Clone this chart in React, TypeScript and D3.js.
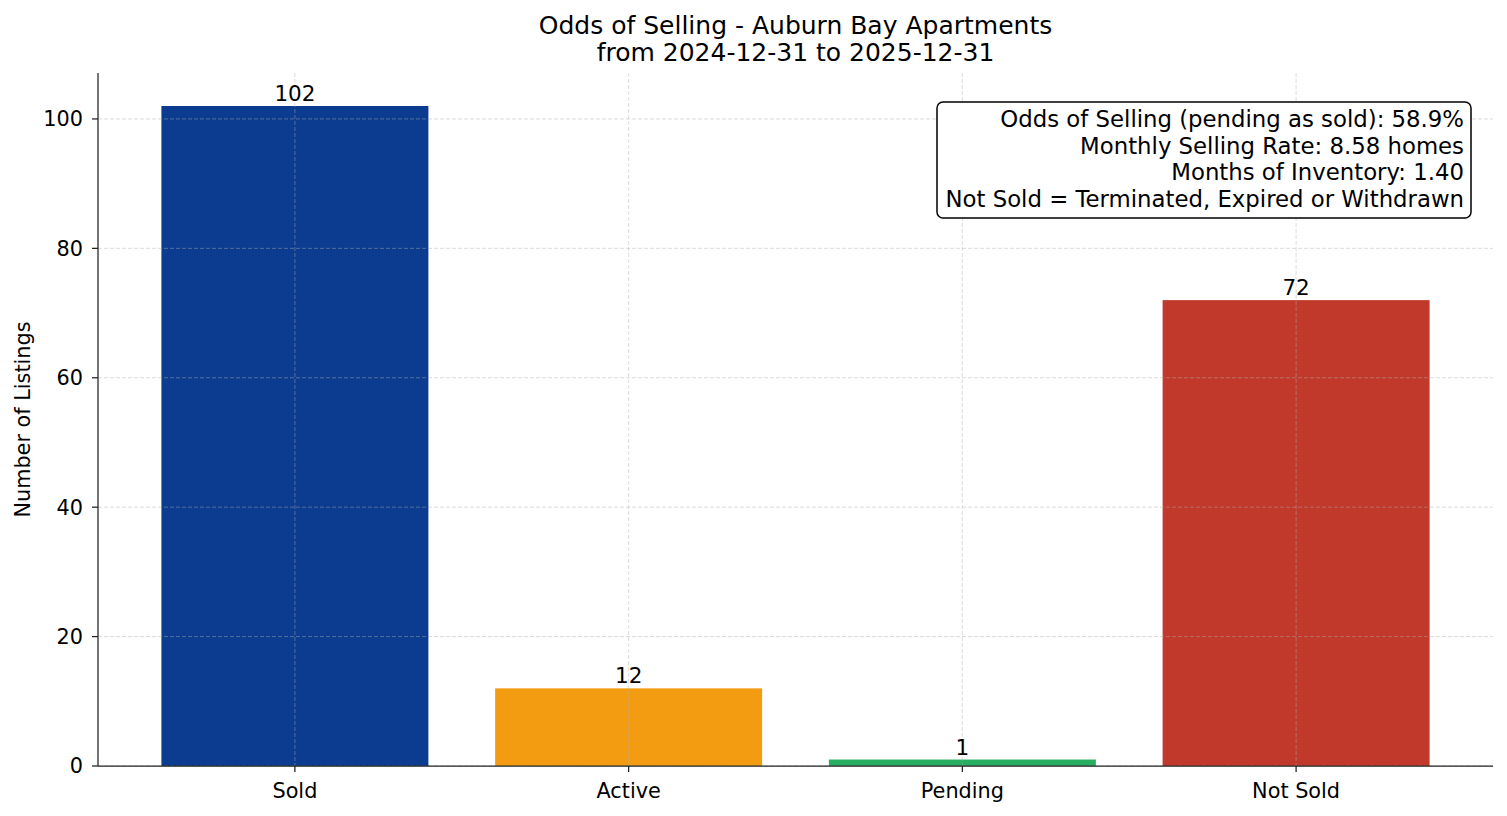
import React from "react";
import * as d3 from "d3";

const categories = ["Sold", "Active", "Pending", "Not Sold"];
const counts = [102, 12, 1, 72];
const barColors = ["#0b3c8f", "#f39c12", "#27ae60", "#c0392b"];
const yTicks = [0, 20, 40, 60, 80, 100];
const titleLines = ["Odds of Selling - Auburn Bay Apartments", "from 2024-12-31 to 2025-12-31"];
const infoLines = [
  "Odds of Selling (pending as sold): 58.9%",
  "Monthly Selling Rate: 8.58 homes",
  "Months of Inventory: 1.40",
  "Not Sold = Terminated, Expired or Withdrawn",
];

const W = 1507, H = 816;
const left = 98, right = 1493, top = 73, bottom = 766;
const font = "'DejaVu Sans', sans-serif";

export default function App() {
  const x = d3.scaleLinear().domain([-0.59, 3.59]).range([left, right]);
  const y = d3.scaleLinear().domain([0, 107.1]).range([bottom, top]);
  const bw = x(0.4) - x(0);
  return (
    <svg width={W} height={H} style={{ position: "absolute", left: 0, top: 0, fontFamily: font }}>
      <rect width={W} height={H} fill="#fff" />
      {categories.map((c, i) => (
        <rect key={c} x={x(i) - bw} y={y(counts[i])} width={bw * 2} height={y(0) - y(counts[i])} fill={barColors[i]} />
      ))}
      {yTicks.map((t) => (
        <line key={"gy" + t} x1={left} x2={right} y1={y(t)} y2={y(t)} stroke="#b0b0b0" strokeOpacity={0.6} strokeWidth={0.75} strokeDasharray="4,2" />
      ))}
      {categories.map((c, i) => (
        <line key={"gx" + c} x1={x(i)} x2={x(i)} y1={top} y2={bottom} stroke="#b0b0b0" strokeOpacity={0.6} strokeWidth={0.75} strokeDasharray="4,2" />
      ))}
      {categories.map((c, i) => (
        <text key={"v" + c} x={x(i)} y={y(counts[i]) - 5} textAnchor="middle" fontSize={21.5} fill="#000">{counts[i]}</text>
      ))}
      <line x1={left} x2={left} y1={top} y2={bottom} stroke="#222" strokeWidth={1.25} />
      <line x1={left} x2={right} y1={bottom} y2={bottom} stroke="#222" strokeWidth={1.25} />
      {yTicks.map((t) => (
        <g key={"ty" + t}>
          <line x1={left - 6} x2={left} y1={y(t)} y2={y(t)} stroke="#222" strokeWidth={1.25} />
          <text x={left - 15} y={y(t)} dy="0.36em" textAnchor="end" fontSize={20.8}>{t}</text>
        </g>
      ))}
      {categories.map((c, i) => (
        <g key={"tx" + c}>
          <line x1={x(i)} x2={x(i)} y1={bottom} y2={bottom + 6} stroke="#222" strokeWidth={1.25} />
          <text x={x(i)} y={798} textAnchor="middle" fontSize={20.8}>{c}</text>
        </g>
      ))}
      <text transform={`translate(30,${(top + bottom) / 2}) rotate(-90)`} textAnchor="middle" fontSize={20.8}>Number of Listings</text>
      {titleLines.map((l, i) => (
        <text key={l} x={(left + right) / 2} y={34 + i * 27} textAnchor="middle" fontSize={25}>{l}</text>
      ))}
      <rect x={937} y={102} width={534} height={116} rx={6} ry={6} fill="#fff" stroke="#000" strokeWidth={1.5} />
      {infoLines.map((l, i) => (
        <text key={l} x={1464} y={127 + i * 26.5} textAnchor="end" fontSize={22.8}>{l}</text>
      ))}
    </svg>
  );
}
